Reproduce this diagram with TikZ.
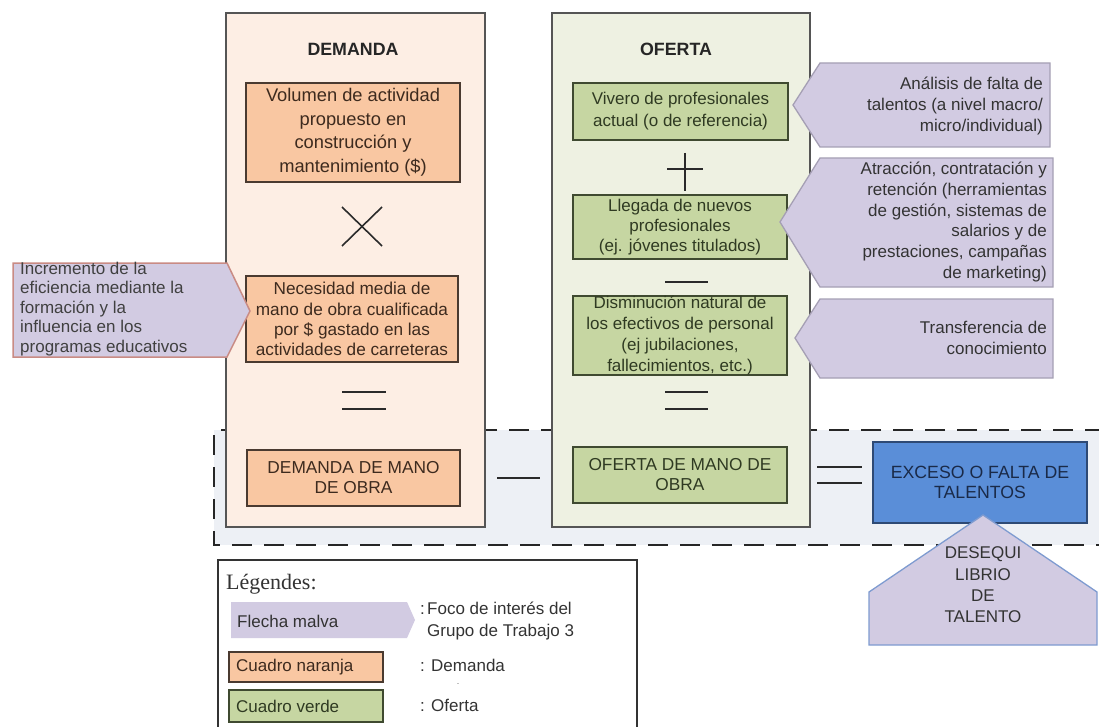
\documentclass[tikz,border=0pt]{standalone}
\usepackage{fontspec}
\setmainfont{Liberation Sans}
\newfontfamily\legserif{Liberation Serif}
\definecolor{demfill}{HTML}{FDEEE4}
\definecolor{offill}{HTML}{EEF1E2}
\definecolor{orangebox}{HTML}{F9C7A2}
\definecolor{greenbox}{HTML}{C6D6A2}
\definecolor{bandc}{HTML}{EDF0F5}
\definecolor{blueb}{HTML}{5A8ED8}
\definecolor{blueedge}{HTML}{2E4A75}
\definecolor{bluetext}{HTML}{1A2A48}
\definecolor{mauve}{HTML}{D2CBE2}
\definecolor{mauveedge}{HTML}{A59FB4}
\definecolor{pentedge}{HTML}{7E9BD0}
\definecolor{pinkedge}{HTML}{C98B84}
\definecolor{txt}{HTML}{333333}
\definecolor{framec}{HTML}{555555}
\definecolor{obord}{HTML}{4A3A30}
\definecolor{gbord}{HTML}{3F4A30}
\definecolor{otext}{HTML}{3D2A1E}
\definecolor{gtext}{HTML}{2F3A22}
\definecolor{opc}{HTML}{2A2A2A}
\begin{document}
\begin{tikzpicture}[x=1pt,y=-1pt,
  every node/.style={font=\fontsize{17}{21}\selectfont, text=txt, inner sep=0pt},
  bigbox/.style={draw=framec, line width=1.3pt},
  obox/.style={draw=obord, fill=orangebox, line width=1.2pt, text=otext, align=center},
  gbox/.style={draw=gbord, fill=greenbox, line width=1.2pt, text=gtext, align=center},
  mauvearrow/.style={fill=mauve, draw=mauveedge, line width=1.3pt, line join=miter},
  opline/.style={draw=opc, line width=2pt},
  titletext/.style={font=\bfseries\fontsize{17.8}{21}\selectfont, text=black!85},
  dashline/.style={draw=black!85, line width=1.8pt, dash pattern=on 20pt off 12pt},
  legtext/.style={anchor=west, align=left}
]
\useasboundingbox (0,0) rectangle (1099,727);

% dashed band
\fill[bandc] (214,430) rectangle (1105,545);
\draw[dashline] (1105,430) -- (214,430) -- (214,545) -- (1105,545);

% big boxes
\draw[bigbox, fill=demfill] (226,13) rectangle (485,527);
\draw[bigbox, fill=offill] (552,13) rectangle (810,527);

\node[titletext] (demtitle) at (353,49) {DEMANDA};
\node[titletext] (oftitle) at (676,49) {OFERTA};

% demand boxes
\node[obox, font=\fontsize{18.3}{23.5}\selectfont, minimum width=214, minimum height=99] (vol) at (353,132.5)
  {Volumen de actividad\\propuesto en\\construcción y\\mantenimiento (\$)};
\node[obox, font=\fontsize{17.2}{20.3}\selectfont, minimum width=212, minimum height=86] (nec) at (352,319)
  {Necesidad media de\\mano de obra cualificada\\por \$ gastado en las\\actividades de carreteras};
\node[obox, font=\fontsize{17.3}{20}\selectfont, minimum width=213, minimum height=56] (demmo) at (353.5,478)
  {DEMANDA DE MANO\\DE OBRA};

% supply boxes
\node[gbox, font=\fontsize{17}{22}\selectfont, minimum width=215, minimum height=57] (viv) at (680.5,111.5)
  {Vivero de profesionales\\actual (o de referencia)};
\node[gbox, font=\fontsize{17}{20}\selectfont, minimum width=214, minimum height=64] (lleg) at (680,227)
  {Llegada de nuevos\\profesionales\\(ej. jóvenes titulados)};
\node[gbox, minimum width=214, minimum height=77] (dism) at (680,335.5)
  {Disminución natural de\\los efectivos de personal\\(ej jubilaciones,\\fallecimientos, etc.)};
\node[gbox, font=\fontsize{17.3}{20}\selectfont, minimum width=214, minimum height=56] (ofmo) at (680,475)
  {OFERTA DE MANO DE\\OBRA};

% result box
\node[draw=blueedge, fill=blueb, line width=1.5pt, text=bluetext, align=center,
      font=\fontsize{17.7}{20}\selectfont, minimum width=214, minimum height=81] (exc) at (980,482.5)
  {EXCESO O FALTA DE\\TALENTOS};

% operators
\draw[opline, line width=1.6pt] (342,207) -- (382,246);
\draw[opline, line width=1.6pt] (342,246) -- (382,207);
\draw[opline] (342,392) -- (386,392);
\draw[opline] (342,409) -- (386,409);
\draw[opline] (667,169) -- (703,169);
\draw[opline] (685,153) -- (685,191);
\draw[opline] (665,282) -- (708,282);
\draw[opline] (665,392) -- (708,392);
\draw[opline] (665,409) -- (708,409);
\draw[opline] (497,478) -- (540,478);
\draw[opline] (817,467) -- (862,467);
\draw[opline] (817,483) -- (862,483);

% left mauve arrow
\draw[fill=mauve, draw=pinkedge, line width=1.5pt] (13,263) -- (227,263) -- (250,311) -- (227,357) -- (13,357) -- cycle;
\node[anchor=west, align=left, text=black!75, font=\fontsize{17}{19.5}\selectfont] (eff) at (20,309)
  {Incremento de la\\eficiencia mediante la\\formación y la\\influencia en los\\programas educativos};

% right mauve arrows
\draw[mauvearrow] (793,105) -- (820,63) -- (1050,63) -- (1050,147) -- (820,147) -- cycle;
\node[anchor=east, align=right] (ana) at (1043,106)
  {Análisis de falta de\\talentos (a nivel macro/\\micro/individual)};
\draw[mauvearrow] (780,222) -- (820,158) -- (1053,158) -- (1053,287) -- (820,287) -- cycle;
\node[anchor=east, align=right, font=\fontsize{17}{20.8}\selectfont] (atr) at (1047,222)
  {Atracción, contratación y\\retención (herramientas\\de gestión, sistemas de\\salarios y de\\prestaciones, campañas\\de marketing)};
\draw[mauvearrow] (795,338) -- (820,299) -- (1053,299) -- (1053,378) -- (820,378) -- cycle;
\node[anchor=east, align=right] (tra) at (1047,338)
  {Transferencia de\\conocimiento};

% pentagon
\draw[fill=mauve, draw=pentedge, line width=1.3pt] (983,515) -- (1097,592) -- (1097,645) -- (869,645) -- (869,592) -- cycle;
\node[align=center, text=black!80, font=\fontsize{17}{21.3}\selectfont] (deseq) at (983,585)
  {DESEQUI\\LIBRIO\\DE\\TALENTO};

% legend
\draw[draw=black!80, line width=1.1pt] (218,727) -- (218,560) -- (637,560) -- (637,727);
\node[anchor=west, text=black!80, font=\legserif\fontsize{22}{24}\selectfont] (legt) at (226,584) {Légendes:};
\fill[mauve] (231,602) -- (407,602) -- (415,620) -- (407,638) -- (231,638) -- cycle;
\node[legtext] (flm) at (237,621) {Flecha malva};
\node[legtext] (fococ) at (420,610) {:};
\node[legtext, font=\fontsize{17}{22}\selectfont] (focot) at (427,621) {Foco de interés del\\Grupo de Trabajo 3};
\draw[draw=obord, fill=orangebox, line width=1.2pt] (229,652) rectangle (383,682);
\node[legtext, text=otext] (cn) at (236,667) {Cuadro naranja};
\node[legtext] (dem) at (420,665) {: Demanda};
\node[text=black!60, font=\fontsize{9}{10}\selectfont] (dot) at (458,684) {.};
\draw[draw=gbord, fill=greenbox, line width=1.2pt] (229,690) rectangle (383,722);
\node[legtext, text=gtext] (cv) at (236,706) {Cuadro verde};
\node[legtext] (ofe) at (420,705) {: Oferta};
\end{tikzpicture}
\end{document}
